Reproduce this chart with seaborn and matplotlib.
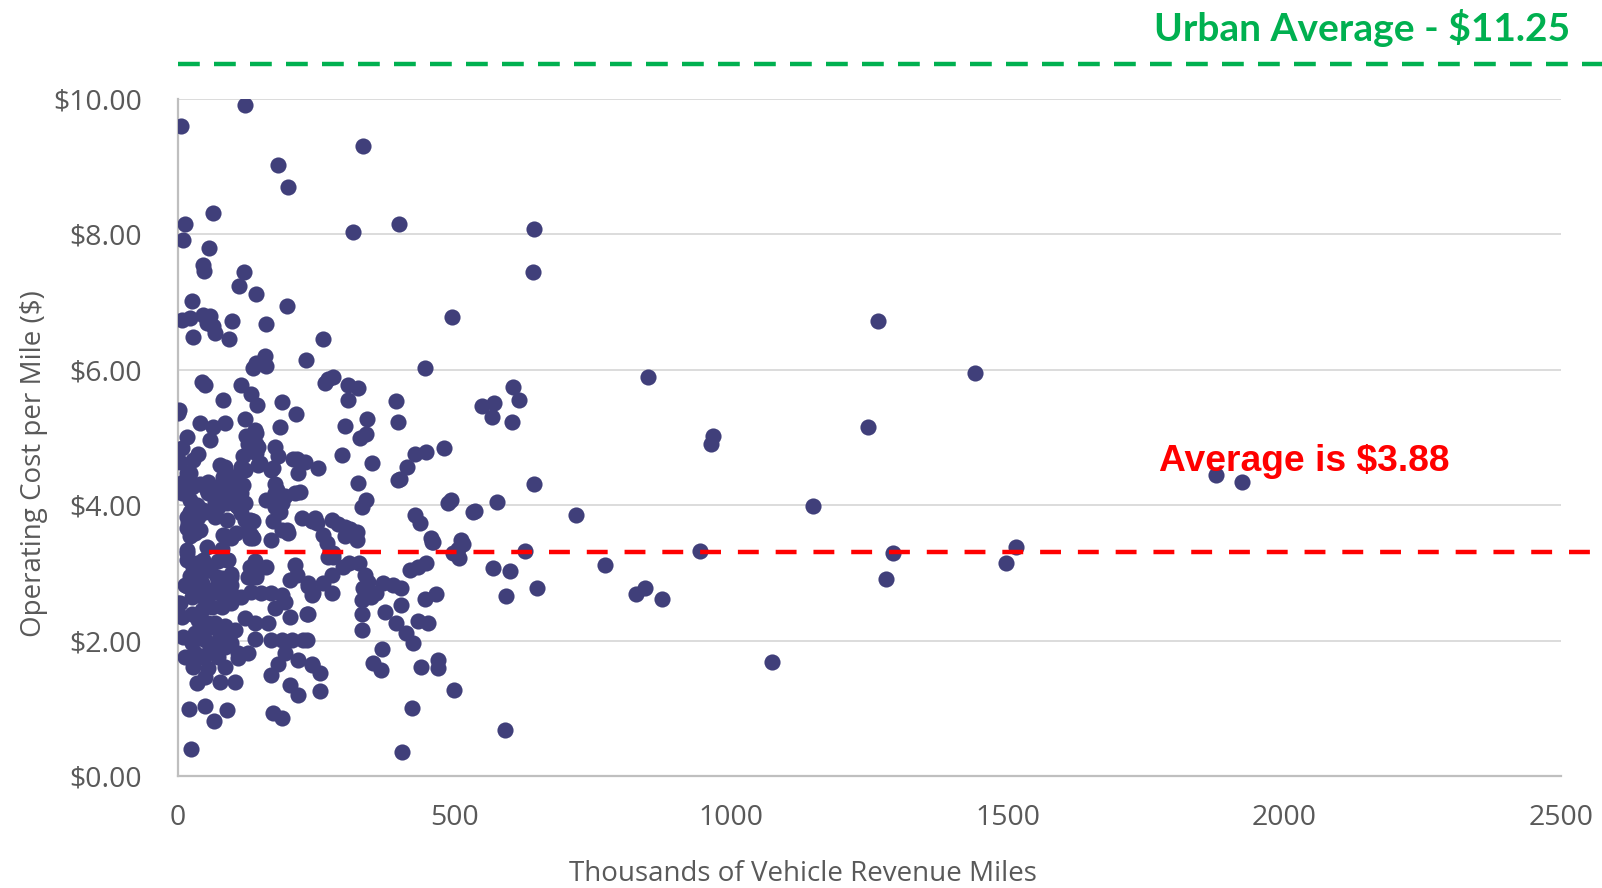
import matplotlib
matplotlib.use("Agg")
import matplotlib.pyplot as plt
import seaborn as sns
import pandas as pd

# ---------------- data ----------------
vrm_thousands = [
    121, 5, 335, 181, 199, 63, 13, 399, 316, 9, 56, 45, 48, 119, 110, 141, 198, 25, 7, 22,
    46, 58, 52, 64, 67, 28, 98, 92, 159, 496, 262, 231, 447, 157, 142, 136, 159, 43, 50, 114,
    82, 133, 144, 189, 213, 266, 281, 272, 308, 325, 308, 394, 342, 398, 3, 0, 121, 40, 64, 85,
    184, 58, 16, 124, 139, 145, 127, 7, 4, 37, 28, 118, 115, 145, 142, 175, 181, 85, 82, 97,
    103, 16, 10, 7, 25, 40, 52, 55, 73, 76, 67, 115, 121, 109, 169, 175, 175, 215, 230, 217,
    160, 193, 188, 212, 221, 224, 242, 34, 22, 37, 19, 37, 49, 67, 73, 106, 115, 121, 136, 127,
    175, 184, 172, 188, 197, 82, 97, 133,
    303, 329, 341, 297, 351, 254, 428, 449, 481, 415, 401, 326, 341, 332, 494, 488, 533, 428, 437, 248,
    278, 302, 323, 458, 512,
    31, 85, 130, 169, 199, 16, 16, 28, 73, 91, 97, 70, 82, 139, 160, 130, 142, 212, 203, 215,
    236, 242, 13, 4, 25, 37, 49, 67, 79, 97, 115, 133, 151, 169, 188, 7, 25, 43, 61, 79,
    97, 121, 139, 163, 175, 193, 203, 233, 10, 31, 49, 67, 85, 103, 139, 169, 188, 206, 227, 193,
    181, 218, 242, 13, 31, 55, 73, 109, 127, 28, 55, 85, 109, 34, 49, 76, 103, 169, 203, 218,
    20, 49, 88, 66, 172, 189, 24, 0, 37, 55, 73, 91, 49, 67, 25, 85, 43, 97, 61, 43,
    25, 37, 55, 73, 97,
    269, 302, 323, 281, 299, 278, 263, 278, 236, 245, 236, 233, 327, 338, 344, 335, 350, 332, 332, 332,
    371, 389, 404, 359, 403, 375, 395, 413, 425, 369, 353, 368, 419, 434, 449, 459, 515, 509, 446, 467,
    434, 453, 439, 470, 471, 499, 242, 257, 257, 423, 405,
    850, 606, 616, 571, 550, 568, 604, 643, 577, 538, 719, 627, 570, 600, 594, 650, 772, 829, 845, 875,
    591, 644, 642, 1876, 1924, 1441, 1266, 1247, 1148, 1074, 1280, 1293, 1515, 1496, 967, 963, 943,
    142, 142, 148, 172, 179, 208, 398, 290, 312, 251, 263, 461, 112, 121, 118, 112, 130, 136, 76, 88,
    79, 94, 88, 73, 67, 88, 106,
    22, 10, 22, 16, 28, 16, 22, 16, 34, 22, 34, 16, 34,
    55, 52, 46, 40, 52, 46, 58,
    79, 88, 79, 97, 73, 130, 142, 127, 272, 281, 506, 497, 310,
]

cost_per_mile = [
    9.91, 9.60, 9.30, 9.02, 8.70, 8.31, 8.15, 8.15, 8.03, 7.92, 7.80, 7.55, 7.46, 7.45, 7.24, 7.12, 6.94, 7.01, 6.73, 6.76,
    6.81, 6.79, 6.69, 6.64, 6.54, 6.49, 6.72, 6.45, 6.68, 6.78, 6.45, 6.15, 6.03, 6.20, 6.10, 6.02, 6.06, 5.82, 5.78, 5.78,
    5.56, 5.64, 5.48, 5.52, 5.35, 5.80, 5.90, 5.87, 5.78, 5.73, 5.55, 5.54, 5.28, 5.23, 5.41, 5.36, 5.27, 5.21, 5.16, 5.21,
    5.16, 4.96, 5.01, 5.02, 5.11, 4.86, 4.91, 4.84, 4.64, 4.76, 4.67, 4.72, 4.57, 4.59, 4.77, 4.86, 4.72, 4.57, 4.42, 4.35,
    4.27, 4.47, 4.35, 4.18, 4.27, 4.32, 4.30, 4.18, 4.27, 4.13, 4.05, 4.18, 4.03, 3.98, 4.52, 4.32, 4.18, 4.69, 4.64, 4.47,
    4.08, 4.13, 4.03, 4.18, 4.19, 3.81, 3.76, 4.00, 3.90, 3.83, 3.73, 3.63, 3.90, 3.88, 4.03, 4.00, 3.88, 3.78, 3.76, 3.63,
    3.98, 3.90, 3.76, 3.63, 3.63, 3.56, 3.51, 3.56,
    5.17, 5.00, 5.05, 4.74, 4.63, 4.55, 4.76, 4.79, 4.84, 4.57, 4.38, 4.33, 4.08, 3.98, 4.07, 4.03, 3.90, 3.86, 3.74, 3.81,
    3.78, 3.68, 3.61, 3.51, 3.49,
    3.59, 3.54, 3.51, 3.49, 3.59, 3.34, 3.19, 3.09, 3.17, 3.19, 2.99, 2.94, 2.89, 3.17, 3.09, 2.94, 2.99, 3.12, 2.90, 2.97,
    2.80, 2.67, 2.82, 2.55, 2.65, 2.72, 2.60, 2.72, 2.67, 2.70, 2.65, 2.72, 2.70, 2.70, 2.67, 2.35, 2.40, 2.45, 2.50, 2.50,
    2.55, 2.33, 2.26, 2.26, 2.48, 2.57, 2.35, 2.40, 2.06, 2.11, 2.16, 2.26, 2.21, 2.16, 2.03, 2.01, 2.01, 2.01, 2.01, 1.81,
    1.66, 1.71, 1.66, 1.76, 1.81, 1.81, 1.76, 1.81, 1.81, 1.61, 1.59, 1.61, 1.74, 1.37, 1.47, 1.39, 1.39, 1.49, 1.34, 1.20,
    0.99, 1.03, 0.97, 0.81, 0.93, 0.85, 0.40, 2.55, 2.30, 2.26, 2.16, 2.06, 2.01, 1.96, 1.96, 1.91, 1.76, 1.96, 2.75, 2.85,
    2.90, 2.99, 3.04, 2.85, 2.82,
    3.44, 3.54, 3.49, 3.24, 3.09, 2.97, 2.85, 2.70, 2.85, 2.70, 2.40, 2.01, 3.14, 2.97, 2.87, 2.77, 2.65, 2.60, 2.40, 2.16,
    2.85, 2.82, 2.77, 2.70, 2.53, 2.43, 2.26, 2.11, 1.96, 1.88, 1.67, 1.57, 3.04, 3.09, 3.14, 3.45, 3.43, 3.22, 2.62, 2.69,
    2.29, 2.26, 1.61, 1.72, 1.59, 1.27, 1.64, 1.52, 1.25, 1.00, 0.36,
    5.90, 5.74, 5.55, 5.51, 5.46, 5.30, 5.23, 4.31, 4.05, 3.91, 3.86, 3.33, 3.08, 3.03, 2.66, 2.78, 3.11, 2.69, 2.77, 2.61,
    0.68, 8.08, 7.45, 4.45, 4.35, 5.95, 6.72, 5.15, 3.99, 1.68, 2.91, 3.30, 3.39, 3.15, 5.02, 4.91, 3.33,
    5.07, 4.90, 4.62, 4.55, 4.22, 4.69, 4.37, 3.72, 3.65, 3.73, 3.56, 3.46, 4.49, 4.52, 4.30, 4.15, 3.78, 3.51, 4.59, 4.45,
    4.20, 4.18, 4.03, 3.98, 3.83, 3.78, 3.59,
    4.47, 4.20, 4.08, 3.83, 3.83, 3.66, 3.54, 3.30, 3.15, 2.95, 3.00, 2.80, 2.70,
    4.35, 4.22, 3.93, 3.63, 3.39, 3.19, 3.04,
    3.36, 3.19, 2.92, 2.94, 2.80, 3.09, 2.94, 2.94, 3.24, 3.29, 3.36, 3.29, 3.15,
]

y_ticks = [0, 2, 4, 6, 8, 10]
y_tick_labels = ["$0.00", "$2.00", "$4.00", "$6.00", "$8.00", "$10.00"]
x_ticks = [0, 500, 1000, 1500, 2000, 2500]
x_tick_labels = ["0", "500", "1000", "1500", "2000", "2500"]

avg_line_value = 3.31          # drawn position of the red line
avg_line_start = 57
urban_line_value = 10.51       # drawn position of the green line (above axis)
avg_label = "Average is $3.88"
urban_label = "Urban Average - $11.25"
x_title = "Thousands of Vehicle Revenue Miles"
y_title = "Operating Cost per Mile ($)"

df = pd.DataFrame({"vrm": vrm_thousands, "cost": cost_per_mile})

# ---------------- styling ----------------
sns.set_theme(style="white")
plt.rcParams["font.family"] = ["Open Sans", "DejaVu Sans"]

fig = plt.figure(figsize=(16.02, 8.88), dpi=100)
ax = fig.add_axes([0.1110, 0.1261, 0.8634, 0.7624])

sns.scatterplot(data=df, x="vrm", y="cost", ax=ax, s=135, color="#403F7A",
                linewidth=0, zorder=3, legend=False)

ax.set_xlim(0, 2500)
ax.set_ylim(0, 10)
ax.set_xticks(x_ticks)
ax.set_xticklabels(x_tick_labels)
ax.set_yticks(y_ticks)
ax.set_yticklabels(y_tick_labels)

grey_text = "#595959"
ax.tick_params(axis="y", length=0, pad=26, labelsize=20.5, labelcolor=grey_text)
ax.tick_params(axis="x", length=0, pad=20, labelsize=20.5, labelcolor=grey_text)

ax.grid(axis="y", color="#D9D9D9", linewidth=1.3, zorder=0)
ax.grid(axis="x", visible=False)
for side in ["top", "right"]:
    ax.spines[side].set_visible(False)
for side in ["left", "bottom"]:
    ax.spines[side].set_color("#BFBFBF")
    ax.spines[side].set_linewidth(1.6)

ax.set_xlabel(x_title, fontsize=20, color=grey_text, va="center")
ax.xaxis.set_label_coords(0.452, -0.144)
ax.set_ylabel(y_title, fontsize=20, color=grey_text, va="center")
ax.yaxis.set_label_coords(-0.1040, 0.461)

# reference lines (extend beyond the plot area to the figure edge)
x_end = 2600
ax.plot([avg_line_start, x_end], [avg_line_value, avg_line_value], color="#FF0000",
        linewidth=3.2, dashes=(4.7, 3.8), clip_on=False, zorder=4)
ax.plot([0, x_end], [urban_line_value, urban_line_value], color="#00B050",
        linewidth=3.2, dashes=(4.9, 3.2), clip_on=False, zorder=4)

ax.text(1774, 4.51, avg_label, color="#FF0000", fontsize=26.8, fontweight="bold",
        family=["Liberation Sans", "DejaVu Sans"], ha="left", va="baseline", zorder=5)
ax.text(2517, 10.85, urban_label, color="#00B050", fontsize=28, fontweight="bold",
        family=["Lato", "DejaVu Sans"], ha="right", va="baseline", clip_on=False, zorder=5)

fig.savefig("out.png", dpi=100)
